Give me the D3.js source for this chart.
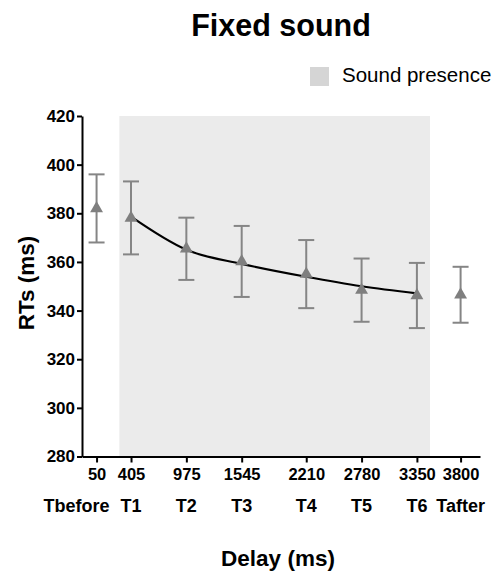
<!DOCTYPE html>
<html>
<head>
<meta charset="utf-8">
<script src="https://cdn.jsdelivr.net/npm/d3@7"></script>
<style>
  body { margin: 0; background: #fff; }
  svg { display: block; font-family: "Liberation Sans", Arial, Helvetica, sans-serif; }
</style>
</head>
<body>
<div class="chart"></div>
<script>
// values
const delays = [50, 405, 975, 1545, 2210, 2780, 3350, 3800];
const phases = ['Tbefore', 'T1', 'T2', 'T3', 'T4', 'T5', 'T6', 'Tafter'];
const rts = [382, 378.1, 365.4, 360.2, 355, 348.4, 346.2, 346.5];
const errs = [14, 15, 12.8, 14.6, 14, 13, 13.4, 11.5];
const inSound = [false, true, true, true, true, true, true, false];
// fitted curve over the sound window (T1..T6)
const fitDelays = [405, 975, 1545, 2210, 2780, 3350];
const fitRts = [378.6, 365, 359.2, 353.9, 350, 347.1];
const soundSpan = [285, 3485];
const yTicks = [280, 300, 320, 340, 360, 380, 400, 420];

const width = 496, height = 573;
const plotLeft = 82, plotRight = 480, plotTop = 116, plotBottom = 456.5;

const svg = d3.select('.chart')
    .append('svg')
    .attr('width', width)
    .attr('height', height);

const x = d3.scaleLinear().domain([-100, 4000]).range([plotLeft, plotRight]);
const y = d3.scaleLinear().domain([280, 420]).range([plotBottom, plotTop]);

const data = delays.map((d, i) => ({t: d, label: phases[i], rt: rts[i], err: errs[i], sound: inSound[i]}));
const fit = fitDelays.map((d, i) => ({t: d, rt: fitRts[i]}));

// shaded sound window
svg.append('rect')
    .attr('x', x(soundSpan[0]))
    .attr('y', y(420))
    .attr('width', x(soundSpan[1]) - x(soundSpan[0]))
    .attr('height', y(280) - y(420))
    .attr('fill', '#ebebeb');

// axes
const yAxis = svg.append('g')
    .attr('transform', `translate(${plotLeft},0)`)
    .call(d3.axisLeft(y).tickValues(yTicks).tickSize(5).tickPadding(2).tickSizeOuter(0));
const xAxis = svg.append('g')
    .attr('transform', `translate(0,${plotBottom})`)
    .call(d3.axisBottom(x).tickValues(delays).tickFormat(d3.format('d')).tickSize(6).tickPadding(6).tickSizeOuter(0));

[yAxis, xAxis].forEach(a => {
    a.select('.domain').attr('stroke', '#000').attr('stroke-width', 2);
    a.selectAll('.tick line').attr('stroke', '#000').attr('stroke-width', 2);
    a.selectAll('.tick text')
        .attr('fill', '#000')
        .attr('font-size', 16.5)
        .attr('font-weight', 'bold')
        .attr('font-family', '"Liberation Sans", Arial, sans-serif');
});
yAxis.selectAll('.tick text').attr('font-size', 17);

// phase labels under the delays
svg.append('g')
    .selectAll('text')
    .data(data)
    .join('text')
    .attr('x', (d, i) => i === 0 ? x(d.t) + 13 : x(d.t))
    .attr('y', 512)
    .attr('text-anchor', (d, i) => i === 0 ? 'end' : 'middle')
    .attr('font-size', 18)
    .attr('font-weight', 'bold')
    .text(d => d.label);

// fitted line
svg.append('path')
    .datum(fit)
    .attr('fill', 'none')
    .attr('stroke', '#000')
    .attr('stroke-width', 2.2)
    .attr('d', d3.line().x(d => x(d.t)).y(d => y(d.rt)).curve(d3.curveMonotoneX));

// error bars
const bars = svg.append('g')
    .attr('stroke', '#858585')
    .attr('stroke-width', 2)
    .selectAll('g')
    .data(data)
    .join('g');
bars.append('line')
    .attr('x1', d => x(d.t)).attr('x2', d => x(d.t))
    .attr('y1', d => y(d.rt + d.err)).attr('y2', d => y(d.rt - d.err));
bars.append('line')
    .attr('x1', d => x(d.t) - 8).attr('x2', d => x(d.t) + 8)
    .attr('y1', d => y(d.rt + d.err)).attr('y2', d => y(d.rt + d.err));
bars.append('line')
    .attr('x1', d => x(d.t) - 8).attr('x2', d => x(d.t) + 8)
    .attr('y1', d => y(d.rt - d.err)).attr('y2', d => y(d.rt - d.err));

// triangle markers
svg.append('g')
    .selectAll('path')
    .data(data)
    .join('path')
    .attr('transform', d => `translate(${x(d.t)},${y(d.rt)})`)
    .attr('d', d3.symbol(d3.symbolTriangle, 72))
    .attr('fill', '#7f7f7f');

// title
svg.append('text')
    .attr('x', 281)
    .attr('y', 36)
    .attr('text-anchor', 'middle')
    .attr('font-size', 30.5)
    .attr('font-weight', 'bold')
    .text('Fixed sound');

// legend
svg.append('rect')
    .attr('x', 310).attr('y', 67)
    .attr('width', 19).attr('height', 19)
    .attr('fill', '#d5d5d5');
svg.append('text')
    .attr('x', 342)
    .attr('y', 82)
    .attr('font-size', 20.5)
    .text('Sound presence');

// axis titles
svg.append('text')
    .attr('x', 278)
    .attr('y', 566)
    .attr('text-anchor', 'middle')
    .attr('font-size', 22.5)
    .attr('font-weight', 'bold')
    .text('Delay (ms)');
svg.append('text')
    .attr('transform', 'translate(34,283) rotate(-90)')
    .attr('text-anchor', 'middle')
    .attr('font-size', 22.5)
    .attr('font-weight', 'bold')
    .text('RTs (ms)');
</script>
</body>
</html>
